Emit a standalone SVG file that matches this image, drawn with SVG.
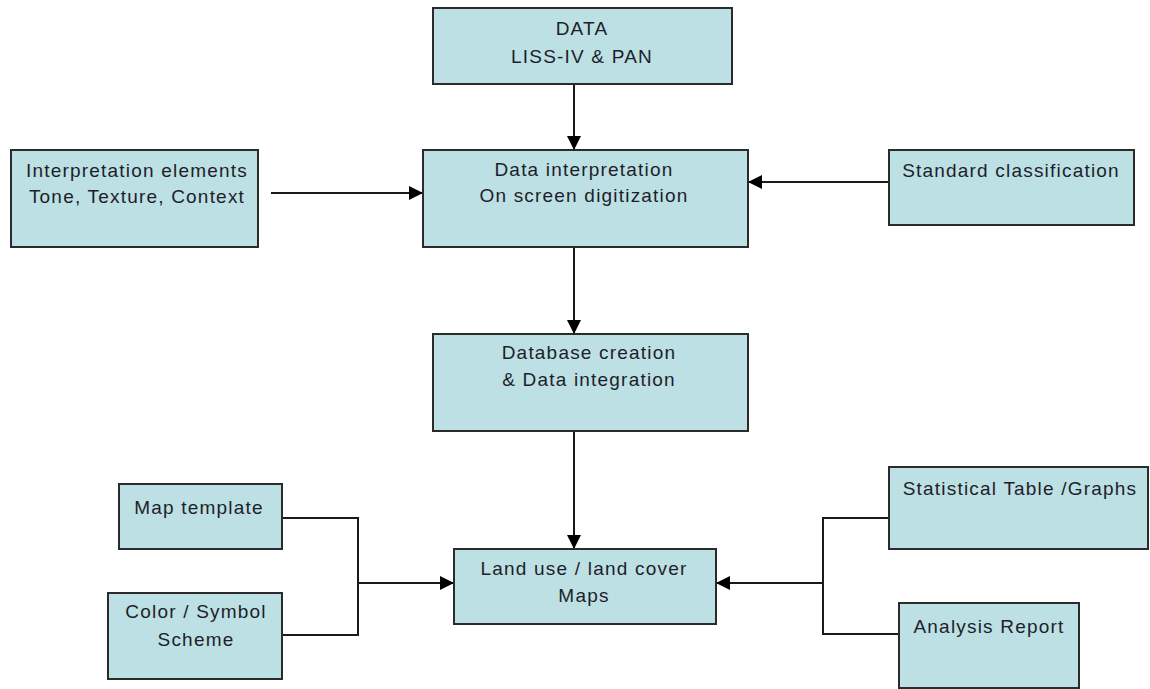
<svg xmlns="http://www.w3.org/2000/svg" width="1150" height="689" viewBox="0 0 1150 689">
<style>
.box{fill:#bce0e3;stroke:#2b2b2b;stroke-width:2}
.t{font-family:"Liberation Sans",Arial,sans-serif;font-size:19px;letter-spacing:1.2px;fill:#1e1e2a;text-anchor:middle}
.c{fill:none;stroke:#1a1a1a;stroke-width:2}
</style>
<defs>
<marker id="ah" markerUnits="userSpaceOnUse" markerWidth="14" markerHeight="14" refX="14" refY="7" orient="auto">
<path d="M0,0 L14,7 L0,14 z" fill="#000"/>
</marker>
</defs>
<rect width="1150" height="689" fill="#fff"/>
<g id="connectors">
<line class="c" x1="574" y1="84" x2="574" y2="150" marker-end="url(#ah)"/>
<line class="c" x1="271" y1="193" x2="423" y2="193" marker-end="url(#ah)"/>
<line class="c" x1="889" y1="182" x2="748" y2="182" marker-end="url(#ah)"/>
<line class="c" x1="574" y1="247" x2="574" y2="334" marker-end="url(#ah)"/>
<line class="c" x1="574" y1="431" x2="574" y2="549" marker-end="url(#ah)"/>
<polyline class="c" points="282,518 358,518 358,635 282,635"/>
<line class="c" x1="358" y1="583" x2="454" y2="583" marker-end="url(#ah)"/>
<polyline class="c" points="889,518 823,518 823,634 899,634"/>
<line class="c" x1="823" y1="583" x2="716" y2="583" marker-end="url(#ah)"/>
</g>
<g id="data">
<rect class="box" x="433" y="8" width="299" height="76"/>
<text class="t" x="582" y="35">DATA</text>
<text class="t" x="582" y="63">LISS-IV &amp; PAN</text>
</g>
<g id="interp">
<rect class="box" x="423" y="150" width="325" height="97"/>
<text class="t" x="584" y="176">Data interpretation</text>
<text class="t" x="584" y="202">On screen digitization</text>
</g>
<g id="elements">
<rect class="box" x="11" y="150" width="247" height="97"/>
<text class="t" x="137" y="177">Interpretation elements</text>
<text class="t" x="137" y="203">Tone, Texture, Context</text>
</g>
<g id="standard">
<rect class="box" x="889" y="150" width="245" height="75"/>
<text class="t" x="1011" y="177">Standard classification</text>
</g>
<g id="database">
<rect class="box" x="433" y="334" width="315" height="97"/>
<text class="t" x="589" y="359">Database creation</text>
<text class="t" x="589" y="386">&amp; Data integration</text>
</g>
<g id="landuse">
<rect class="box" x="454" y="549" width="262" height="75"/>
<text class="t" x="584" y="575">Land use / land cover</text>
<text class="t" x="584" y="602">Maps</text>
</g>
<g id="maptemplate">
<rect class="box" x="119" y="484" width="163" height="65"/>
<text class="t" x="199" y="514">Map template</text>
</g>
<g id="colorscheme">
<rect class="box" x="108" y="593" width="174" height="86"/>
<text class="t" x="196" y="618">Color / Symbol</text>
<text class="t" x="196" y="646">Scheme</text>
</g>
<g id="statistical">
<rect class="box" x="889" y="467" width="259" height="82"/>
<text class="t" x="1020" y="495">Statistical Table /Graphs</text>
</g>
<g id="analysis">
<rect class="box" x="899" y="603" width="180" height="85"/>
<text class="t" x="989" y="633">Analysis Report</text>
</g>
</svg>
